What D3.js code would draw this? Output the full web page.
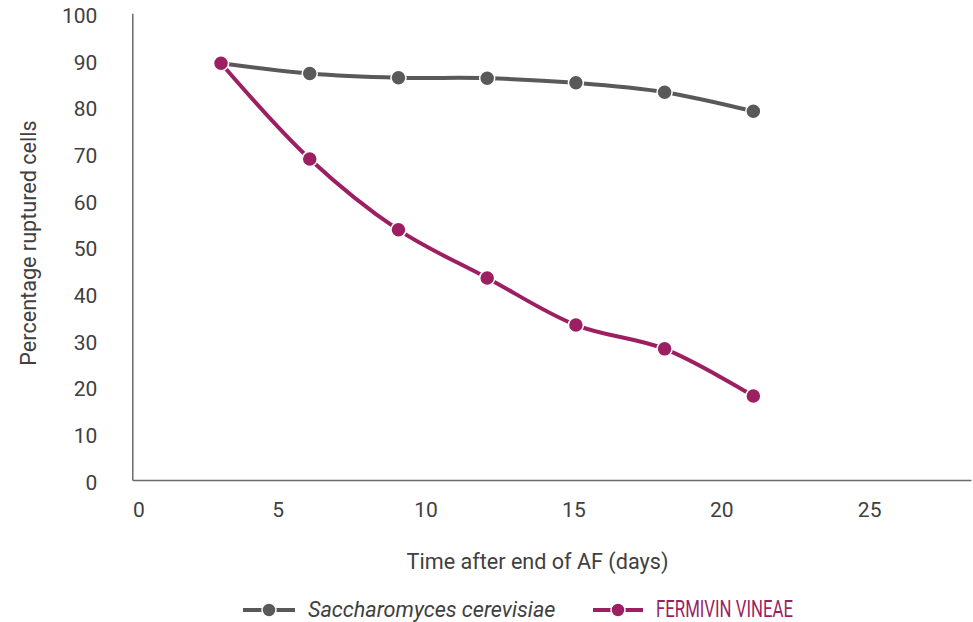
<!DOCTYPE html>
<html>
<head>
<meta charset="utf-8">
<script src="https://cdn.jsdelivr.net/npm/d3@7"></script>
<style>
  html, body { margin: 0; padding: 0; background: #fff; }
  svg { display: block; }
  text { font-family: Roboto, "Noto Sans", sans-serif; }
</style>
</head>
<body>
<svg id="chart" width="973" height="622"></svg>
<script>
// ---- data ----
const days = [3, 6, 9, 12, 15, 18, 21];
const saccharomyces = [89.3, 87.1, 86.2, 86.1, 85.1, 83.1, 79.0];
const fermivin = [89.3, 68.8, 53.6, 43.3, 33.2, 28.1, 18.0];
const xTicks = [0, 5, 10, 15, 20, 25];
const yTicks = [0, 10, 20, 30, 40, 50, 60, 70, 80, 90, 100];
const seriesNames = ["Saccharomyces cerevisiae", "FERMIVIN VINEAE"];
const seriesColors = ["#595959", "#9c1f62"];
const xTitle = "Time after end of AF (days)";
const yTitle = "Percentage ruptured cells";

// ---- layout ----
const svg = d3.select("#chart");
const x = d3.scaleLinear().domain([0, 28.36]).range([132.3, 971]);
const y = d3.scaleLinear().domain([0, 100]).range([480, 13.3]);
const axisColor = "#6b6b6b";
const textColor = "#404040";

// x axis
const gx = svg.append("g").attr("transform", `translate(0,${y(0)})`)
  .call(d3.axisBottom(x).tickValues(xTicks).tickSize(0).tickSizeOuter(0).tickPadding(22));
gx.select(".domain").attr("stroke", axisColor).attr("stroke-width", 1.5);
gx.selectAll("text").attr("fill", textColor).style("font-size", "21px")
  .attr("x", d => d === 0 ? 6 : -2.5);

// y axis
const gy = svg.append("g").attr("transform", `translate(${x(0)},0)`)
  .call(d3.axisLeft(y).tickValues(yTicks).tickSize(0).tickSizeOuter(0).tickPadding(35));
gy.select(".domain").attr("stroke", axisColor).attr("stroke-width", 1.5);
gy.selectAll("text").attr("fill", textColor).style("font-size", "21px").attr("y", 2.5);

// axis titles
svg.append("text").attr("x", 537.5).attr("y", 568.5).attr("text-anchor", "middle")
  .attr("fill", textColor).style("font-size", "21.6px").text(xTitle);
svg.append("text").attr("transform", "translate(36,243) rotate(-90)").attr("text-anchor", "middle")
  .attr("fill", textColor).style("font-size", "21.6px").text(yTitle);

// series
const series = [saccharomyces, fermivin];
const line = d3.line().curve(d3.curveCatmullRom.alpha(0.5))
  .x((d, i) => x(days[i])).y(d => y(d));

series.forEach((vals, si) => {
  const g = svg.append("g");
  g.append("path").datum(vals).attr("d", line)
    .attr("fill", "none").attr("stroke", seriesColors[si]).attr("stroke-width", 4)
    .attr("stroke-linecap", "round");
  g.selectAll("circle").data(vals).join("circle")
    .attr("cx", (d, i) => x(days[i])).attr("cy", d => y(d)).attr("r", 7.5)
    .attr("fill", seriesColors[si]).attr("stroke", "#fff").attr("stroke-width", 1.5);
});

// legend
const legend = [
  { x0: 243, x1: 295, tx: 308 },
  { x0: 593, x1: 643, tx: 656 }
];
legend.forEach((l, si) => {
  const g = svg.append("g");
  g.append("line").attr("x1", l.x0).attr("x2", l.x1).attr("y1", 610).attr("y2", 610)
    .attr("stroke", seriesColors[si]).attr("stroke-width", 4);
  g.append("circle").attr("cx", (l.x0 + l.x1) / 2).attr("cy", 610).attr("r", 7)
    .attr("fill", seriesColors[si]).attr("stroke", "#fff").attr("stroke-width", 1.5);
  const t = g.append("text").attr("x", l.tx).attr("y", 617).text(seriesNames[si]);
  if (si === 0) {
    t.attr("fill", textColor).style("font-size", "21.6px").style("font-style", "italic");
  } else {
    t.attr("fill", seriesColors[si]).style("font-size", "24px")
      .attr("textLength", 137).attr("lengthAdjust", "spacingAndGlyphs");
  }
});
</script>
</body>
</html>
